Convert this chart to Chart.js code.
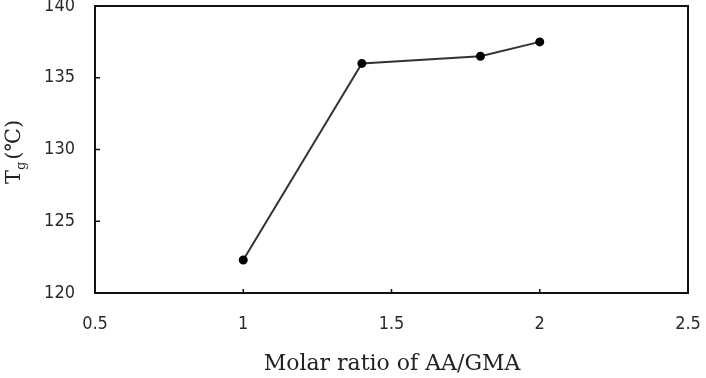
<!DOCTYPE html>
<html>
<head>
<meta charset="utf-8">
<script src="https://cdn.jsdelivr.net/npm/chart.js@4.4.1/dist/chart.umd.min.js"></script>
<style>
  html, body { margin: 0; padding: 0; background: #fff; }
</style>
</head>
<body>
<canvas id="grafico" width="706" height="378"></canvas>
<script>
// dados
const razaoMolar = [1.0, 1.4, 1.8, 2.0];
const tg = [122.3, 136.0, 136.5, 137.5];
const ticksX = [0.5, 1, 1.5, 2, 2.5];
const ticksY = [120, 125, 130, 135, 140];

const tickFont = { family: 'DejaVu Sans Condensed', size: 18 };

// moldura e marcas para dentro
const moldura = {
  id: 'moldura',
  afterDraw(chart) {
    const ctx = chart.ctx;
    const a = chart.chartArea;
    const sx = chart.scales.x, sy = chart.scales.y;
    ctx.save();
    ctx.strokeStyle = '#111';
    ctx.lineWidth = 2;
    ctx.strokeRect(a.left, a.top, a.right - a.left, a.bottom - a.top);
    ctx.lineWidth = 1.5;
    ticksX.forEach(v => {
      const px = sx.getPixelForValue(v);
      ctx.beginPath(); ctx.moveTo(px, a.bottom); ctx.lineTo(px, a.bottom - 4); ctx.stroke();
    });
    ticksY.forEach(v => {
      const py = sy.getPixelForValue(v);
      ctx.beginPath(); ctx.moveTo(a.left, py); ctx.lineTo(a.left + 5, py); ctx.stroke();
    });

    // titulos
    ctx.fillStyle = '#222';
    ctx.font = '22px "DejaVu Serif"';
    ctx.textAlign = 'center';
    ctx.textBaseline = 'middle';
    ctx.fillText('Molar ratio of AA/GMA', 392, 364);

    ctx.translate(15, 152);
    ctx.rotate(-Math.PI / 2);
    ctx.textAlign = 'left';
    const t1 = 'T', t2 = 'g', t3 = '(℃)';
    ctx.font = '21px "DejaVu Serif"';
    const w1 = ctx.measureText(t1).width;
    ctx.font = '13px "DejaVu Serif"';
    const w2 = ctx.measureText(t2).width;
    ctx.font = '21px "DejaVu Serif"';
    const w3 = ctx.measureText(t3).width;
    let x0 = -(w1 + w2 + w3 + 2) / 2;
    ctx.fillText(t1, x0, 0);
    ctx.font = '13px "DejaVu Serif"';
    ctx.fillText(t2, x0 + w1, 7);
    ctx.font = '21px "DejaVu Serif"';
    ctx.fillText(t3, x0 + w1 + w2 + 2, 0);
    ctx.restore();
  }
};

new Chart(document.getElementById('grafico'), {
  type: 'scatter',
  data: {
    datasets: [{
      data: razaoMolar.map((x, i) => ({ x: x, y: tg[i] })),
      showLine: true,
      borderColor: '#333',
      borderWidth: 2,
      pointBackgroundColor: '#000',
      pointBorderColor: '#000',
      pointRadius: 3.5
    }]
  },
  options: {
    responsive: false,
    animation: false,
    devicePixelRatio: 1,
    layout: { padding: { left: 0, top: 6, right: 18, bottom: 0 } },
    plugins: { legend: { display: false }, tooltip: { enabled: false } },
    scales: {
      x: {
        type: 'linear',
        min: 0.5, max: 2.5,
        afterBuildTicks: s => { s.ticks = ticksX.map(v => ({ value: v })); },
        afterFit: s => { s.height = 85; s.paddingLeft = 0; s.paddingRight = 0; },
        grid: { display: false, drawTicks: false },
        border: { display: false },
        ticks: { font: tickFont, color: '#2a2a2a', padding: 21, maxRotation: 0, autoSkip: false, callback: v => String(v) }
      },
      y: {
        min: 120, max: 140,
        afterBuildTicks: s => { s.ticks = ticksY.map(v => ({ value: v })); },
        afterFit: s => { s.width = 95; s.paddingTop = 0; s.paddingBottom = 0; },
        grid: { display: false, drawTicks: false },
        border: { display: false },
        ticks: { font: tickFont, color: '#2a2a2a', padding: 20, autoSkip: false, callback: v => String(v) }
      }
    }
  },
  plugins: [moldura]
});
</script>
</body>
</html>
